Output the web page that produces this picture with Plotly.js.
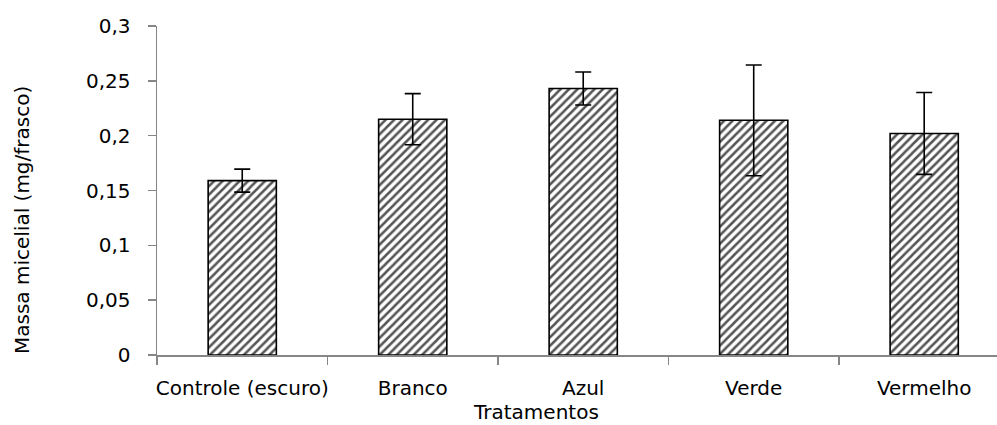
<!DOCTYPE html>
<html>
<head>
<meta charset="utf-8">
<script src="https://cdn.plot.ly/plotly-3.0.1.min.js"></script>
<style>html,body{margin:0;padding:0;background:#fff;}#chart{width:997px;height:425px;}</style>
</head>
<body>
<div id="chart"></div>
<script>
const categories = ["Controle (escuro)", "Branco", "Azul", "Verde", "Vermelho"];
const values = [0.159, 0.215, 0.243, 0.214, 0.202];
const errors = [0.0105, 0.0233, 0.0150, 0.0505, 0.0373];
const yTickVals = [0, 0.05, 0.1, 0.15, 0.2, 0.25, 0.3];
const yTickText = ["0", "0,05", "0,1", "0,15", "0,2", "0,25", "0,3"];
const xTitle = "Tratamentos";
const yTitle = "Massa micelial (mg/frasco)";

const font = "'DejaVu Sans', 'Open Sans', sans-serif";
const fs = 20;

const trace = {
  type: "bar",
  x: categories,
  y: values,
  width: 0.4,
  marker: {
    color: "#ffffff",
    line: {color: "#000000", width: 1.6},
    pattern: {shape: "/", fgcolor: "#555555", bgcolor: "#ffffff", size: 6, solidity: 0.42}
  },
  error_y: {type: "data", array: errors, visible: true, color: "#000000", thickness: 1.6, width: 8},
  hoverinfo: "skip"
};

const layout = {
  width: 997,
  height: 425,
  margin: {l: 157, r: 0, t: 26, b: 70},
  paper_bgcolor: "#ffffff",
  plot_bgcolor: "#ffffff",
  showlegend: false,
  separators: ",.",
  font: {family: font, size: fs, color: "#000000"},
  xaxis: {
    type: "category",
    range: [-0.5, 4.427],
    showgrid: false,
    zeroline: false,
    showline: true,
    linecolor: "#868686",
    linewidth: 1.5,
    ticks: "outside",
    tickson: "boundaries",
    ticklen: 8,
    tickcolor: "#868686",
    tickwidth: 1.5,
    tickangle: 0,
    tickfont: {family: font, size: fs, color: "#000000"},
    ticklabelstandoff: 14
  },
  yaxis: {
    range: [0, 0.3],
    tickvals: yTickVals,
    ticktext: yTickText,
    showgrid: false,
    zeroline: false,
    showline: true,
    linecolor: "#868686",
    linewidth: 1.5,
    ticks: "outside",
    ticklen: 8,
    tickcolor: "#868686",
    tickwidth: 1.5,
    tickfont: {family: font, size: fs, color: "#000000"},
    ticklabelstandoff: 13
  },
  annotations: [
    {text: xTitle, xref: "paper", yref: "paper", x: (536 - 157) / 840, y: -(412 - 355) / 329, xanchor: "center", yanchor: "middle", showarrow: false, font: {family: font, size: fs, color: "#000000"}},
    {text: yTitle, xref: "paper", yref: "paper", x: -(157 - 22) / 840, y: (355 - 220) / 329, xanchor: "center", yanchor: "middle", textangle: -90, showarrow: false, font: {family: font, size: fs, color: "#000000"}}
  ]
};

Plotly.newPlot("chart", [trace], layout, {displayModeBar: false, staticPlot: true});
</script>
</body>
</html>
